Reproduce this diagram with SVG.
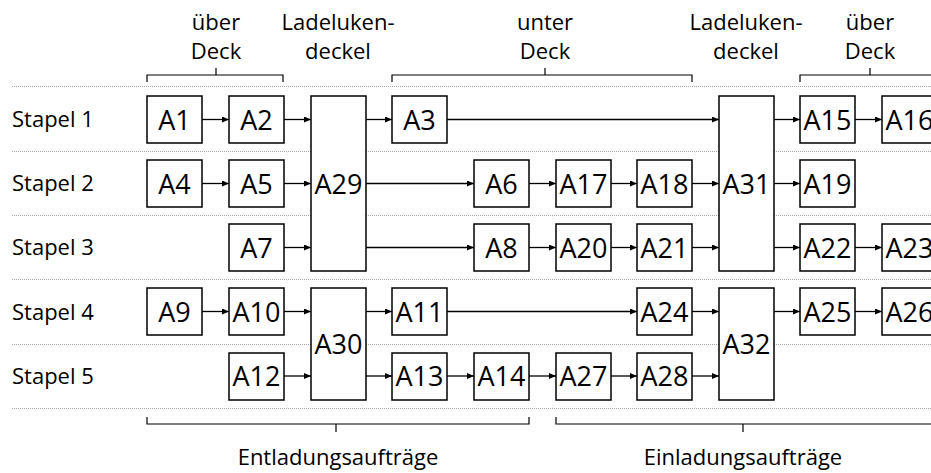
<svg xmlns="http://www.w3.org/2000/svg" width="931" height="473" viewBox="0 0 931 473">
<defs>
<marker id="ah" markerWidth="7" markerHeight="6" refX="7" refY="3" orient="auto" markerUnits="userSpaceOnUse">
<path d="M0,0 L7,3 L0,6 Z" fill="#000"/>
</marker>
<style>
.box{fill:#fff;stroke:#000;stroke-width:1.5}
.lbl{font-family:"Open Sans","Liberation Sans",sans-serif;font-size:27px;fill:#000;text-anchor:middle}
.txt{font-family:"Open Sans","Liberation Sans",sans-serif;font-size:22px;fill:#000}
.mid{text-anchor:middle}
.dot{stroke:#a6a6a6;stroke-width:1;stroke-dasharray:1,1;fill:none}
.br{stroke:#000;stroke-width:1.2;fill:none}
.con line{stroke:#000;stroke-width:1.3;marker-end:url(#ah)}
</style>
</defs>
<rect width="931" height="473" fill="#fff"/>
<g id="grid">
<line class="dot" x1="12" y1="86.5" x2="931" y2="86.5"/>
<line class="dot" x1="12" y1="151.5" x2="931" y2="151.5"/>
<line class="dot" x1="12" y1="215.5" x2="931" y2="215.5"/>
<line class="dot" x1="12" y1="279.5" x2="931" y2="279.5"/>
<line class="dot" x1="12" y1="344.5" x2="931" y2="344.5"/>
<line class="dot" x1="12" y1="408.5" x2="931" y2="408.5"/>
</g>
<g id="headers">
<text class="txt mid" x="216" y="30">über</text>
<text class="txt mid" x="216" y="59">Deck</text>
<text class="txt mid" x="338" y="30">Ladeluken-</text>
<text class="txt mid" x="338" y="59">deckel</text>
<text class="txt mid" x="545" y="30">unter</text>
<text class="txt mid" x="545" y="59">Deck</text>
<text class="txt mid" x="746" y="30">Ladeluken-</text>
<text class="txt mid" x="746" y="59">deckel</text>
<text class="txt mid" x="870" y="30">über</text>
<text class="txt mid" x="870" y="59">Deck</text>
<path class="br" d="M147,82 V75 H283 V82 M216,75 V68"/>
<path class="br" d="M392,82 V75 H692 V82 M545,75 V68"/>
<path class="br" d="M800,82 V75 H931 M870,75 V68"/>
<path class="br" d="M147,417 V424 H529 V417 M336,424 V432"/>
<path class="br" d="M556,417 V424 H931 M743,424 V432"/>
<text class="txt mid" x="338" y="465">Entladungsaufträge</text>
<text class="txt mid" x="743" y="465">Einladungsaufträge</text>
</g>
<g id="rows">
<text class="txt" x="12" y="127">Stapel 1</text>
<text class="txt" x="12" y="191">Stapel 2</text>
<text class="txt" x="12" y="255">Stapel 3</text>
<text class="txt" x="12" y="320">Stapel 4</text>
<text class="txt" x="12" y="384">Stapel 5</text>
</g>
<g class="con" id="connectors">
<line x1="202" y1="119.5" x2="229" y2="119.5"/>
<line x1="284" y1="119.5" x2="311" y2="119.5"/>
<line x1="366" y1="119.5" x2="392" y2="119.5"/>
<line x1="447" y1="119.5" x2="719" y2="119.5"/>
<line x1="774" y1="119.5" x2="800" y2="119.5"/>
<line x1="855" y1="119.5" x2="882" y2="119.5"/>
<line x1="202" y1="183.5" x2="229" y2="183.5"/>
<line x1="284" y1="183.5" x2="311" y2="183.5"/>
<line x1="366" y1="183.5" x2="474" y2="183.5"/>
<line x1="529" y1="183.5" x2="556" y2="183.5"/>
<line x1="610" y1="183.5" x2="637" y2="183.5"/>
<line x1="692" y1="183.5" x2="719" y2="183.5"/>
<line x1="774" y1="183.5" x2="800" y2="183.5"/>
<line x1="284" y1="247.5" x2="311" y2="247.5"/>
<line x1="366" y1="247.5" x2="474" y2="247.5"/>
<line x1="529" y1="247.5" x2="556" y2="247.5"/>
<line x1="610" y1="247.5" x2="637" y2="247.5"/>
<line x1="692" y1="247.5" x2="719" y2="247.5"/>
<line x1="774" y1="247.5" x2="800" y2="247.5"/>
<line x1="855" y1="247.5" x2="882" y2="247.5"/>
<line x1="202" y1="311.5" x2="229" y2="311.5"/>
<line x1="284" y1="311.5" x2="311" y2="311.5"/>
<line x1="366" y1="311.5" x2="392" y2="311.5"/>
<line x1="447" y1="311.5" x2="637" y2="311.5"/>
<line x1="692" y1="311.5" x2="719" y2="311.5"/>
<line x1="774" y1="311.5" x2="800" y2="311.5"/>
<line x1="855" y1="311.5" x2="882" y2="311.5"/>
<line x1="284" y1="376" x2="311" y2="376"/>
<line x1="366" y1="376" x2="392" y2="376"/>
<line x1="447" y1="376" x2="474" y2="376"/>
<line x1="529" y1="376" x2="556" y2="376"/>
<line x1="610" y1="376" x2="637" y2="376"/>
<line x1="692" y1="376" x2="719" y2="376"/>
</g>
<g id="A1"><rect class="box" x="147" y="96" width="55" height="47"/><text class="lbl" x="174.5" y="129.5">A1</text></g>
<g id="A2"><rect class="box" x="229" y="96" width="55" height="47"/><text class="lbl" x="256.5" y="129.5">A2</text></g>
<g id="A3"><rect class="box" x="392" y="96" width="55" height="47"/><text class="lbl" x="419.5" y="129.5">A3</text></g>
<g id="A15"><rect class="box" x="800" y="96" width="55" height="47"/><text class="lbl" x="827.5" y="129.5">A15</text></g>
<g id="A16"><rect class="box" x="882" y="96" width="55" height="47"/><text class="lbl" x="909.5" y="129.5">A16</text></g>
<g id="A4"><rect class="box" x="147" y="160" width="55" height="47"/><text class="lbl" x="174.5" y="193.5">A4</text></g>
<g id="A5"><rect class="box" x="229" y="160" width="55" height="47"/><text class="lbl" x="256.5" y="193.5">A5</text></g>
<g id="A6"><rect class="box" x="474" y="160" width="55" height="47"/><text class="lbl" x="501.5" y="193.5">A6</text></g>
<g id="A17"><rect class="box" x="556" y="160" width="55" height="47"/><text class="lbl" x="583.5" y="193.5">A17</text></g>
<g id="A18"><rect class="box" x="637" y="160" width="55" height="47"/><text class="lbl" x="664.5" y="193.5">A18</text></g>
<g id="A19"><rect class="box" x="800" y="160" width="55" height="47"/><text class="lbl" x="827.5" y="193.5">A19</text></g>
<g id="A7"><rect class="box" x="229" y="224" width="55" height="47"/><text class="lbl" x="256.5" y="257.5">A7</text></g>
<g id="A8"><rect class="box" x="474" y="224" width="55" height="47"/><text class="lbl" x="501.5" y="257.5">A8</text></g>
<g id="A20"><rect class="box" x="556" y="224" width="55" height="47"/><text class="lbl" x="583.5" y="257.5">A20</text></g>
<g id="A21"><rect class="box" x="637" y="224" width="55" height="47"/><text class="lbl" x="664.5" y="257.5">A21</text></g>
<g id="A22"><rect class="box" x="800" y="224" width="55" height="47"/><text class="lbl" x="827.5" y="257.5">A22</text></g>
<g id="A23"><rect class="box" x="882" y="224" width="55" height="47"/><text class="lbl" x="909.5" y="257.5">A23</text></g>
<g id="A9"><rect class="box" x="147" y="288" width="55" height="47"/><text class="lbl" x="174.5" y="321.5">A9</text></g>
<g id="A10"><rect class="box" x="229" y="288" width="55" height="47"/><text class="lbl" x="256.5" y="321.5">A10</text></g>
<g id="A11"><rect class="box" x="392" y="288" width="55" height="47"/><text class="lbl" x="419.5" y="321.5">A11</text></g>
<g id="A24"><rect class="box" x="637" y="288" width="55" height="47"/><text class="lbl" x="664.5" y="321.5">A24</text></g>
<g id="A25"><rect class="box" x="800" y="288" width="55" height="47"/><text class="lbl" x="827.5" y="321.5">A25</text></g>
<g id="A26"><rect class="box" x="882" y="288" width="55" height="47"/><text class="lbl" x="909.5" y="321.5">A26</text></g>
<g id="A12"><rect class="box" x="229" y="353" width="55" height="47"/><text class="lbl" x="256.5" y="386">A12</text></g>
<g id="A13"><rect class="box" x="392" y="353" width="55" height="47"/><text class="lbl" x="419.5" y="386">A13</text></g>
<g id="A14"><rect class="box" x="474" y="353" width="55" height="47"/><text class="lbl" x="501.5" y="386">A14</text></g>
<g id="A27"><rect class="box" x="556" y="353" width="55" height="47"/><text class="lbl" x="583.5" y="386">A27</text></g>
<g id="A28"><rect class="box" x="637" y="353" width="55" height="47"/><text class="lbl" x="664.5" y="386">A28</text></g>
<g id="A29"><rect class="box" x="311" y="96" width="55" height="175"/><text class="lbl" x="338.5" y="193.5">A29</text></g>
<g id="A31"><rect class="box" x="719" y="96" width="55" height="175"/><text class="lbl" x="746.5" y="193.5">A31</text></g>
<g id="A30"><rect class="box" x="311" y="288" width="55" height="112"/><text class="lbl" x="338.5" y="354">A30</text></g>
<g id="A32"><rect class="box" x="719" y="288" width="55" height="112"/><text class="lbl" x="746.5" y="354">A32</text></g>
</svg>
